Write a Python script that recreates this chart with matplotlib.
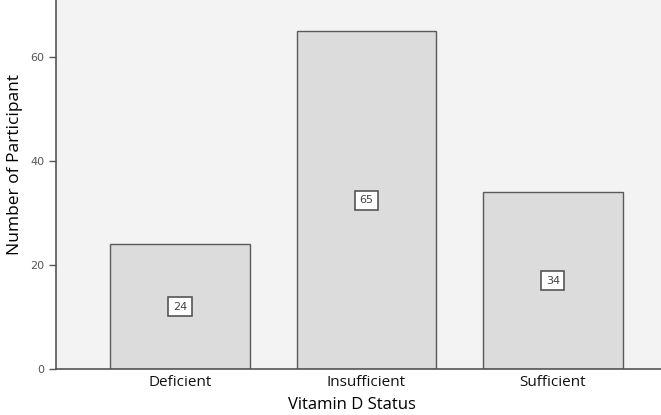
import numpy as np
import matplotlib.pyplot as plt

categories = ["Deficient", "Insufficient", "Sufficient"]
counts = [24, 65, 34]
y_ticks = [0, 20, 40, 60]

fig = plt.figure(figsize=(6.61, 4.15), dpi=100)
ax = fig.add_axes([56 / 661, 46 / 415, 1 - 56 / 661, 1 - 46 / 415])
ax.set_facecolor("#f3f3f3")

x = np.arange(len(categories))
ax.bar(x, counts, width=0.75, color="#dcdcdc", edgecolor="#5a5a5a", linewidth=1.0)

# count labels in boxes, mid-height of each bar
for xi, c in zip(x, counts):
    ax.text(xi, c / 2, str(c), ha="center", va="center", fontsize=8,
            color="#444444", family="DejaVu Sans",
            bbox=dict(boxstyle="square,pad=0.4", facecolor="white",
                      edgecolor="#555555", linewidth=1.2))

ax.set_xlim(-0.665, 2.58)
ax.set_ylim(0, 71)
ax.set_xticks(x)
ax.set_xticklabels(categories, fontsize=11, family="Open Sans", color="#111111")
ax.set_yticks(y_ticks)
ax.tick_params(axis="y", labelsize=8, labelcolor="#555555", length=5,
               color="#555555", width=1)
ax.tick_params(axis="x", length=0, pad=4)

for side in ["top", "right"]:
    ax.spines[side].set_visible(False)
for side in ["left", "bottom"]:
    ax.spines[side].set_color("#555555")
    ax.spines[side].set_linewidth(1.2)

ax.set_xlabel("Vitamin D Status", fontsize=12, family="Open Sans")
ax.set_ylabel("Number of Participant", fontsize=12.5, family="Open Sans")
ax.xaxis.set_label_coords(0.489, -0.075)
ax.yaxis.set_label_coords(-0.055, 0.553)

fig.savefig("out.png", dpi=100)
